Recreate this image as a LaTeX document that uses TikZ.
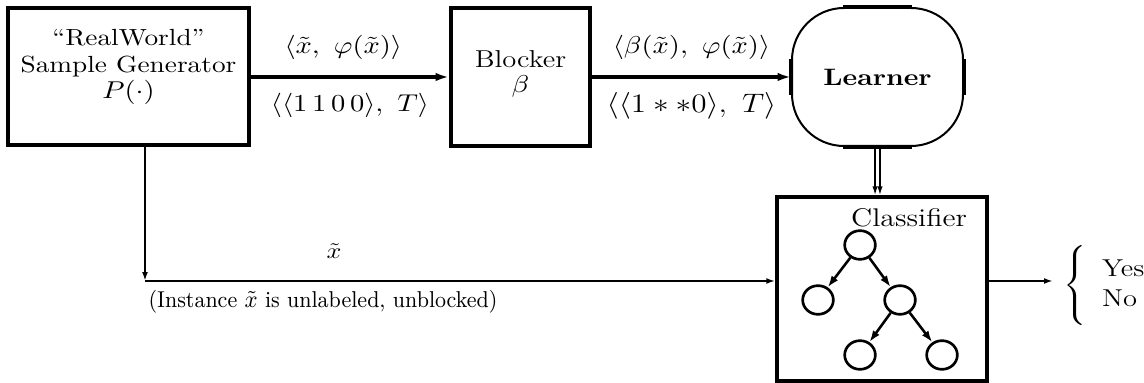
\documentclass[tikz,border=0pt]{standalone}
\usepackage{graphicx}
\usetikzlibrary{arrows.meta,shapes.geometric}

% text is set slightly wide, as in the printed figure
\newcommand\widetext[1]{\scalebox{1.17}[1]{#1}}

\begin{document}
\begin{tikzpicture}[x=0.45pt,y=-0.45pt,
  box/.style={draw, line width=1.8pt, inner sep=0pt},
  flow/.style={line width=1.8pt, -{Latex[length=6pt,width=3.8pt]}},
  feed/.style={line width=1.25pt, -{Latex[length=4pt,width=2.6pt]}},
  thinflow/.style={line width=0.7pt, -{Latex[length=4pt,width=2.4pt]}},
  treenode/.style={draw, ellipse, line width=1.2pt, inner sep=0pt,
    minimum width=13.8pt, minimum height=12.9pt},
  treeedge/.style={line width=1.15pt, -{Latex[length=5.2pt,width=3.6pt]}},
  lbl/.style={inner sep=0pt, font=\fontsize{11}{13}\selectfont}
]
\useasboundingbox (0,0) rectangle (1144,383);

% ---- top row: generator, blocker, learner ----
\node[box, minimum width=108.45pt, minimum height=61.65pt] (gen) at (128.5,77) {};
\node[inner sep=0pt, align=center, font=\fontsize{10.5}{11.8}\selectfont] (gentext) at (128.5,67)
  {\widetext{``RealWorld''}\\\widetext{Sample Generator}\\\widetext{$P(\cdot)$}};

\node[box, minimum width=62.55pt, minimum height=62.1pt] (blocker) at (520.5,77) {};
\node[inner sep=0pt, align=center, font=\fontsize{11}{11.25}\selectfont] (blocktext) at (520.5,74)
  {\widetext{Blocker}\\\widetext{$\beta$}};

\node[draw, line width=0.9pt, rounded corners=23.4pt, inner sep=0pt,
  minimum width=76.95pt, minimum height=62.1pt,
  font=\fontsize{10.7}{12}\selectfont\bfseries] (learner) at (877.5,77) {\widetext{Learner}};
% straight sides of the learner outline are drawn heavier
\draw[line width=1.8pt] ([xshift=23.4pt]learner.north west) -- ([xshift=-23.4pt]learner.north east);
\draw[line width=1.8pt] ([xshift=23.4pt]learner.south west) -- ([xshift=-23.4pt]learner.south east);
\draw[line width=1.8pt] ([yshift=-23.4pt]learner.north west) -- ([yshift=23.4pt]learner.south west);
\draw[line width=1.8pt] ([yshift=-23.4pt]learner.north east) -- ([yshift=23.4pt]learner.south east);

% ---- classifier with its decision tree ----
\node[draw, line width=1.5pt, inner sep=0pt, minimum width=94.5pt, minimum height=82.8pt]
  (classifier) at (882,289) {};
\node[inner sep=0pt, font=\fontsize{11.5}{13}\selectfont] (classtext) at (909,218) {\widetext{Classifier}};

\node[treenode] (root) at (860,245) {};
\node[treenode] (leafL) at (818,300) {};
\node[treenode] (inner) at (900,300) {};
\node[treenode] (leafA) at (860,355) {};
\node[treenode] (leafB) at (942,355) {};
\draw[treeedge] (root) -- (leafL);
\draw[treeedge] (root) -- (inner);
\draw[treeedge] (inner) -- (leafA);
\draw[treeedge] (inner) -- (leafB);

% ---- labelled examples along the top ----
\draw[flow] (gen.east) -- (blocker.west)
  node[lbl, midway, yshift=13.5pt, xshift=-3pt] (ex1)
    {\widetext{$\langle\tilde{x},\ \varphi(\tilde{x})\rangle$}}
  node[lbl, midway, yshift=-13pt] (ex2)
    {\widetext{$\langle\langle 1\,1\,0\,0\rangle,\ T\rangle$}};
\draw[flow] (blocker.east) -- (learner.west)
  node[lbl, midway, yshift=13.5pt] (bx1)
    {\widetext{$\langle\beta(\tilde{x}),\ \varphi(\tilde{x})\rangle$}}
  node[lbl, midway, yshift=-13pt, font=\fontsize{11.5}{13}\selectfont] (bx2)
    {\widetext{$\langle\langle 1**0\rangle,\ T\rangle$}};

% ---- learner hands the classifier down ----
\draw[thinflow] ([xshift=-1.1pt]learner.south) -- ([xshift=-1.1pt]learner.south |- classifier.north);
\draw[thinflow] ([xshift=1.1pt]learner.south) -- ([xshift=1.1pt]learner.south |- classifier.north);

% ---- unlabeled instance path ----
\coordinate (corner) at (145,281);
\draw[feed] (gen.south -| corner) -- (corner);
\draw[line width=1.1pt, -{Latex[length=4pt,width=2.6pt]}] (corner) -- (classifier.west |- corner)
  node[inner sep=0pt, pos=0.3, yshift=13.5pt, font=\fontsize{10}{12}\selectfont] (xt) {\widetext{$\tilde{x}$}};
\node[inner sep=0pt, font=\fontsize{8.6}{11}\selectfont] (note) at (323,302)
  {\scalebox{1.12}[1.2]{(Instance $\tilde{x}$ is unlabeled, unblocked)}};

% ---- output ----
\coordinate (out) at (1053,281);
\draw[line width=0.9pt, -{Latex[length=4pt,width=2.6pt]}] (classifier.east |- out) -- (out);
\node[anchor=west, inner sep=0pt, font=\fontsize{11}{13.5}\selectfont] (answer) at (1063,286)
  {\widetext{$\left\{\begin{array}{@{\hspace{6pt}}l}\mbox{Yes}\rule{0pt}{12.5pt}\\
     \mbox{No}\rule[-7.5pt]{0pt}{7.5pt}\end{array}\right.$}};
\end{tikzpicture}
\end{document}
